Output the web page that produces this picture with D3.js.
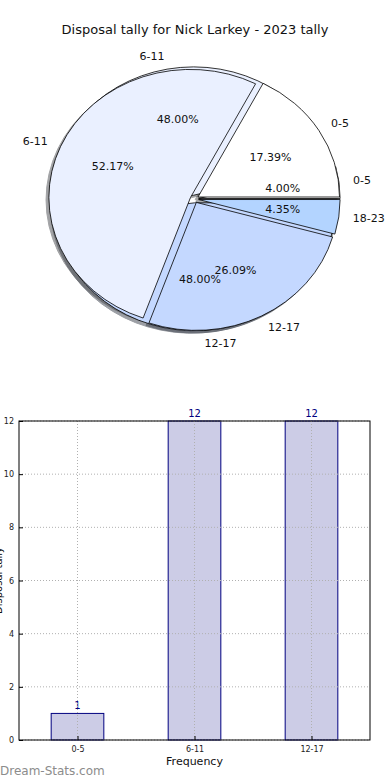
<!DOCTYPE html>
<html>
<head>
<meta charset="utf-8">
<script src="https://cdn.jsdelivr.net/npm/d3@7"></script>
<style>
  body { margin: 0; background: #fff; }
  svg { display: block; font-family: "DejaVu Sans", sans-serif; }
</style>
</head>
<body>
<svg id="chart" width="390" height="780"></svg>
<script>
// pie 1 (back): 2023 tally by bucket
var pieCatsA = ["0-5", "6-11", "12-17"];
var pieValsA = [1, 12, 12];
// pie 2 (front)
var pieCatsB = ["0-5", "6-11", "12-17", "18-23"];
var pieValsB = [4, 12, 6, 1];
// bar chart
var barCats = ["0-5", "6-11", "12-17"];
var barVals = [1, 12, 12];
var yTicks = [0, 2, 4, 6, 8, 10, 12];

var sliceColor = {
    "0-5": "#ffffff",
    "6-11": "#eaf0ff",
    "12-17": "#c4d8ff",
    "18-23": "#b3d4ff"
};

var svg = d3.select("#chart");

svg.append("text")
    .attr("x", 195)
    .attr("y", 34)
    .attr("text-anchor", "middle")
    .attr("font-size", 13)
    .attr("fill", "#111")
    .text("Disposal tally for Nick Larkey - 2023 tally");

// ---- pies ----
var cx = 194.4, cy = 199, rx = 141.5, ry = 128, expl = 0.03;

var pie = d3.pie()
    .sort(null)
    .startAngle(Math.PI / 2)
    .endAngle(Math.PI / 2 - 2 * Math.PI)
    .value(function(d) { return d.v; });

var arc = d3.arc().innerRadius(0).outerRadius(1);

function slices(cats, vals) {
    var total = d3.sum(vals);
    return pie(cats.map(function(c, i) { return {c: c, v: vals[i], p: vals[i] / total}; }))
        .map(function(d) {
            var a = (d.startAngle + d.endAngle) / 2;
            d.dx = Math.sin(a);
            d.dy = -Math.cos(a);
            d.ox = expl * d.dx;
            d.oy = expl * d.dy;
            return d;
        });
}

var slicesA = slices(pieCatsA, pieValsA);
var slicesB = slices(pieCatsB, pieValsB);

function shade(col) {
    var c = d3.rgb(col);
    return d3.rgb(c.r * 0.3, c.g * 0.3, c.b * 0.3).toString();
}

var pieG = svg.append("g");

// shadows sit under every wedge
[slicesA, slicesB].forEach(function(set) {
    pieG.selectAll(null)
        .data(set)
        .enter()
        .append("path")
        .attr("transform", function(d) {
            return "translate(" + (cx + (d.ox - 0.02) * rx) + "," + (cy + (d.oy + 0.02) * ry) + ") scale(" + rx + "," + ry + ")";
        })
        .attr("d", arc)
        .attr("fill", function(d) { return shade(sliceColor[d.data.c]); })
        .attr("stroke", function(d) { return shade(sliceColor[d.data.c]); })
        .attr("stroke-width", 1)
        .attr("vector-effect", "non-scaling-stroke")
        .attr("opacity", 0.5);
});

[slicesA, slicesB].forEach(function(set) {
    pieG.selectAll(null)
        .data(set)
        .enter()
        .append("path")
        .attr("transform", function(d) {
            return "translate(" + (cx + d.ox * rx) + "," + (cy + d.oy * ry) + ") scale(" + rx + "," + ry + ")";
        })
        .attr("d", arc)
        .attr("fill", function(d) { return sliceColor[d.data.c]; })
        .attr("stroke", "#000")
        .attr("stroke-width", 0.8)
        .attr("vector-effect", "non-scaling-stroke");
});

var pct = d3.format(".2%");
[slicesA, slicesB].forEach(function(set) {
    pieG.selectAll(null)
        .data(set)
        .enter()
        .append("text")
        .attr("x", function(d) { return cx + (d.ox + 1.1 * d.dx) * rx; })
        .attr("y", function(d) { return cy + (d.oy + 1.1 * d.dy) * ry; })
        .attr("text-anchor", function(d) { return d.dx > 0 ? "start" : "end"; })
        .attr("dominant-baseline", "central")
        .attr("font-size", 11)
        .attr("fill", "#111")
        .text(function(d) { return d.data.c; });
    pieG.selectAll(null)
        .data(set)
        .enter()
        .append("text")
        .attr("x", function(d) { return cx + (d.ox + 0.6 * d.dx) * rx; })
        .attr("y", function(d) { return cy + (d.oy + 0.6 * d.dy) * ry; })
        .attr("text-anchor", "middle")
        .attr("dominant-baseline", "central")
        .attr("font-size", 11)
        .attr("fill", "#111")
        .text(function(d) { return pct(d.data.p); });
});

// ---- bar chart ----
var m = {left: 19, right: 370, top: 421, bottom: 740};
var x = d3.scaleLinear().domain([-0.5, 2.5]).range([m.left, m.right]);
var y = d3.scaleLinear().domain([0, 12]).range([m.bottom, m.top]);
var barW = 0.45;

var barG = svg.append("g");

barG.selectAll(".bar")
    .data(barVals)
    .enter()
    .append("rect")
    .attr("x", function(d, i) { return x(i - barW / 2); })
    .attr("y", function(d) { return y(d); })
    .attr("width", function() { return x(barW) - x(0); })
    .attr("height", function(d) { return y(0) - y(d); })
    .attr("fill", "rgba(0,0,128,0.2)")
    .attr("stroke", "#000080")
    .attr("stroke-width", 1);

barG.selectAll(".val")
    .data(barVals)
    .enter()
    .append("text")
    .attr("x", function(d, i) { return x(i); })
    .attr("y", function(d) { return y(d) - 4; })
    .attr("text-anchor", "middle")
    .attr("font-size", 10)
    .attr("fill", "#000080")
    .text(function(d) { return d; });

// dotted grid on top of bars
barG.selectAll(".hgrid")
    .data(yTicks)
    .enter()
    .append("line")
    .attr("x1", m.left).attr("x2", m.right)
    .attr("y1", function(d) { return y(d); })
    .attr("y2", function(d) { return y(d); })
    .attr("stroke", "#b0b0b0")
    .attr("stroke-dasharray", "1,2");
barG.selectAll(".vgrid")
    .data(barCats)
    .enter()
    .append("line")
    .attr("x1", function(d, i) { return x(i); })
    .attr("x2", function(d, i) { return x(i); })
    .attr("y1", m.top).attr("y2", m.bottom)
    .attr("stroke", "#b0b0b0")
    .attr("stroke-dasharray", "1,2");

var yAxis = d3.axisLeft(y).tickValues(yTicks).tickSize(-4).tickPadding(5);
barG.append("g")
    .attr("transform", "translate(" + m.left + ",0)")
    .call(yAxis)
    .call(function(g) {
        g.select(".domain").remove();
        g.selectAll("text").attr("font-size", 8).attr("font-family", "DejaVu Sans").attr("fill", "#222");
    });

var xAxis = d3.axisBottom(x).tickValues([0, 1, 2])
    .tickFormat(function(d) { return barCats[d]; })
    .tickSize(-4).tickPadding(6);
barG.append("g")
    .attr("transform", "translate(0," + m.bottom + ")")
    .call(xAxis)
    .call(function(g) {
        g.select(".domain").remove();
        g.selectAll("text").attr("font-size", 8).attr("font-family", "DejaVu Sans").attr("fill", "#222");
    });

barG.append("rect")
    .attr("x", m.left).attr("y", m.top)
    .attr("width", m.right - m.left).attr("height", m.bottom - m.top)
    .attr("fill", "none")
    .attr("stroke", "#000")
    .attr("stroke-width", 1);

svg.append("text")
    .attr("x", (m.left + m.right) / 2)
    .attr("y", 765)
    .attr("text-anchor", "middle")
    .attr("font-size", 11)
    .attr("fill", "#111")
    .text("Frequency");

// y label sits partly off the left edge, as in the original
svg.append("text")
    .attr("transform", "translate(2," + (m.top + m.bottom) / 2 + ") rotate(-90)")
    .attr("text-anchor", "middle")
    .attr("font-size", 10)
    .attr("fill", "#111")
    .text("Disposal tally");

svg.append("text")
    .attr("x", 0)
    .attr("y", 775)
    .attr("font-size", 12)
    .attr("fill", "#8c8c8c")
    .text("Dream-Stats.com");
</script>
</body>
</html>
